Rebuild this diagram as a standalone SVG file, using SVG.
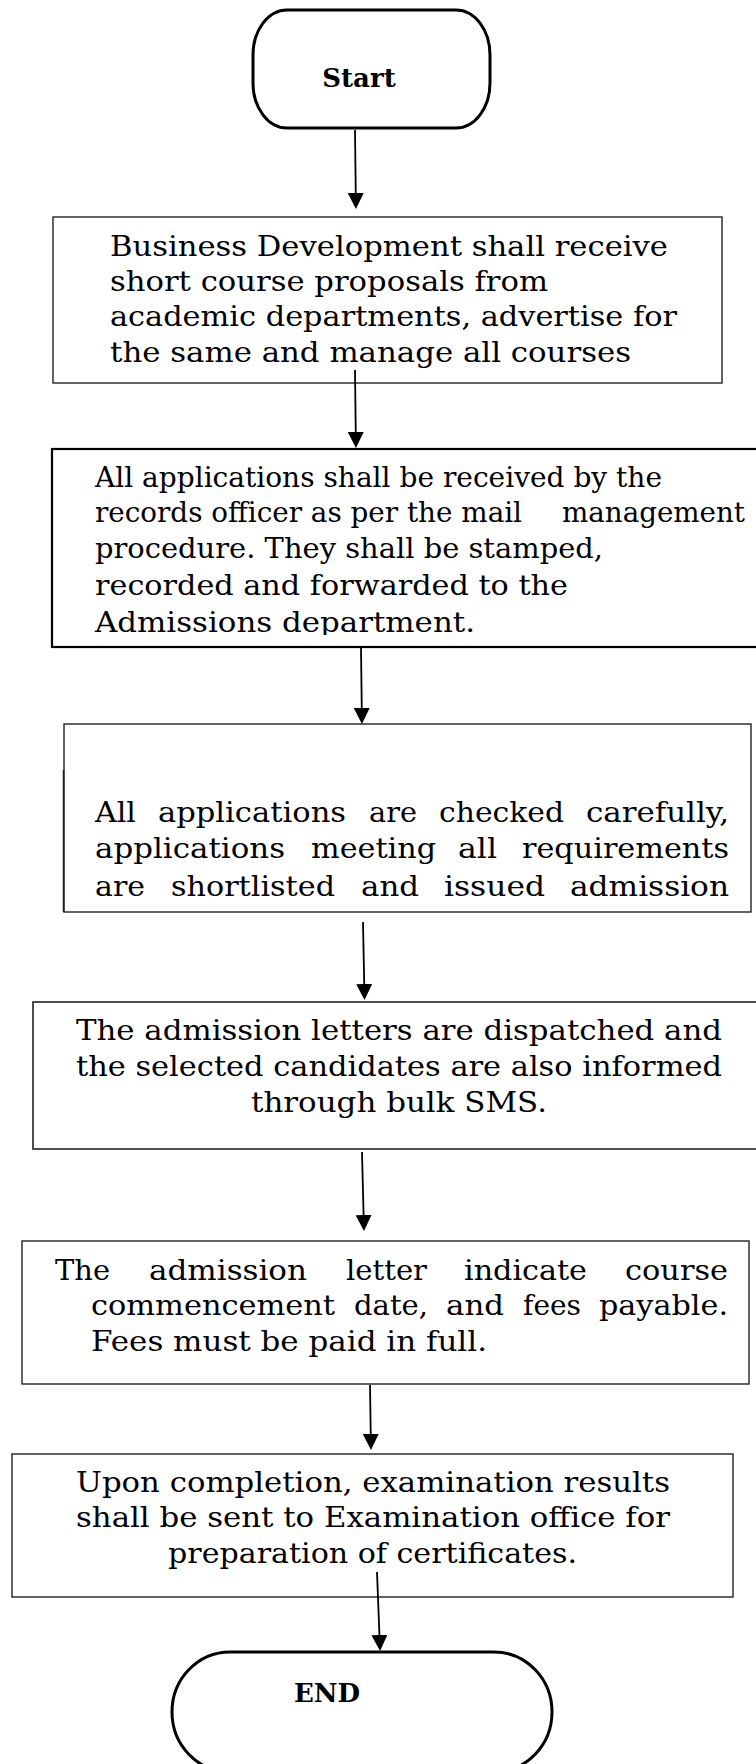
<svg xmlns="http://www.w3.org/2000/svg" width="756" height="1764" viewBox="0 0 756 1764">
<style>
.box{fill:#fff;stroke:#222;stroke-width:1.4}
.term{fill:#fff;stroke:#000;stroke-width:3}
.t{font-family:"DejaVu Serif","Liberation Serif",serif;font-size:28px;fill:#000}
.b{font-family:"DejaVu Serif","Liberation Serif",serif;font-size:26px;font-weight:bold;fill:#000}
.c{fill:none;stroke:#000;stroke-width:1.8}
</style>
<defs>
<marker id="ah" viewBox="0 0 16 16" refX="4" refY="8" markerWidth="16" markerHeight="16" markerUnits="userSpaceOnUse" orient="auto">
<path d="M0,0 L16,8 L0,16 z" fill="#000"/>
</marker>
<clipPath id="clip2"><rect x="52" y="449" width="720" height="186"/></clipPath>
</defs>
<rect width="756" height="1764" fill="#fff"/>

<g id="start">
<rect class="term" x="253" y="10" width="237" height="118" rx="34" ry="45"/>
<text class="b" x="359" y="87" text-anchor="middle">Start</text>
</g>

<g id="n1">
<rect class="box" x="53" y="217" width="669" height="166"/>
<text class="t" x="110" y="256" textLength="558" lengthAdjust="spacingAndGlyphs">Business Development shall receive</text>
<text class="t" x="110" y="291" textLength="438" lengthAdjust="spacingAndGlyphs">short course proposals from</text>
<text class="t" x="110" y="326" textLength="567" lengthAdjust="spacingAndGlyphs">academic departments, advertise for</text>
<text class="t" x="110" y="362" textLength="521" lengthAdjust="spacingAndGlyphs">the same and manage all courses</text>
</g>

<g id="n2">
<rect x="52" y="449" width="720" height="198" fill="#fff" stroke="#000" stroke-width="2.2"/>
<g clip-path="url(#clip2)">
<text class="t" x="95" y="487" textLength="567" lengthAdjust="spacingAndGlyphs">All applications shall be received by the</text>
<text class="t" x="95" y="522" textLength="427" lengthAdjust="spacingAndGlyphs">records officer as per the mail</text>
<text class="t" x="562" y="522" textLength="183" lengthAdjust="spacingAndGlyphs">management</text>
<text class="t" x="95" y="558" textLength="508" lengthAdjust="spacingAndGlyphs">procedure. They shall be stamped,</text>
<text class="t" x="95" y="595" textLength="473" lengthAdjust="spacingAndGlyphs">recorded and forwarded to the</text>
<text class="t" x="95" y="632" textLength="380" lengthAdjust="spacingAndGlyphs">Admissions department.</text>
</g>
</g>

<g id="n3">
<rect class="box" x="64" y="724" width="687" height="188"/>
<line x1="63.5" y1="770" x2="63.5" y2="912" stroke="#222" stroke-width="1.6"/>
<text class="t" x="95" y="822" textLength="41" lengthAdjust="spacingAndGlyphs">All</text>
<text class="t" x="158" y="822" textLength="188" lengthAdjust="spacingAndGlyphs">applications</text>
<text class="t" x="369" y="822" textLength="48" lengthAdjust="spacingAndGlyphs">are</text>
<text class="t" x="439" y="822" textLength="125" lengthAdjust="spacingAndGlyphs">checked</text>
<text class="t" x="586" y="822" textLength="143" lengthAdjust="spacingAndGlyphs">carefully,</text>
<text class="t" x="95" y="858" textLength="190" lengthAdjust="spacingAndGlyphs">applications</text>
<text class="t" x="311" y="858" textLength="125" lengthAdjust="spacingAndGlyphs">meeting</text>
<text class="t" x="458" y="858" textLength="39" lengthAdjust="spacingAndGlyphs">all</text>
<text class="t" x="522" y="858" textLength="207" lengthAdjust="spacingAndGlyphs">requirements</text>
<text class="t" x="95" y="896" textLength="50" lengthAdjust="spacingAndGlyphs">are</text>
<text class="t" x="171" y="896" textLength="164" lengthAdjust="spacingAndGlyphs">shortlisted</text>
<text class="t" x="361" y="896" textLength="58" lengthAdjust="spacingAndGlyphs">and</text>
<text class="t" x="444" y="896" textLength="101" lengthAdjust="spacingAndGlyphs">issued</text>
<text class="t" x="570" y="896" textLength="159" lengthAdjust="spacingAndGlyphs">admission</text>
</g>

<g id="n4">
<rect x="33" y="1002" width="740" height="147" fill="#fff" stroke="#222" stroke-width="1.6"/>
<text class="t" x="76" y="1040" textLength="646" lengthAdjust="spacingAndGlyphs">The admission letters are dispatched and</text>
<text class="t" x="76" y="1076" textLength="646" lengthAdjust="spacingAndGlyphs">the selected candidates are also informed</text>
<text class="t" x="251" y="1112" textLength="296" lengthAdjust="spacingAndGlyphs">through bulk SMS.</text>
</g>

<g id="n5">
<rect class="box" x="22" y="1241" width="727" height="143"/>
<text class="t" x="55" y="1280" textLength="55" lengthAdjust="spacingAndGlyphs">The</text>
<text class="t" x="149" y="1280" textLength="158" lengthAdjust="spacingAndGlyphs">admission</text>
<text class="t" x="346" y="1280" textLength="81" lengthAdjust="spacingAndGlyphs">letter</text>
<text class="t" x="464" y="1280" textLength="123" lengthAdjust="spacingAndGlyphs">indicate</text>
<text class="t" x="625" y="1280" textLength="103" lengthAdjust="spacingAndGlyphs">course</text>
<text class="t" x="91" y="1315" textLength="244" lengthAdjust="spacingAndGlyphs">commencement</text>
<text class="t" x="354" y="1315" textLength="74" lengthAdjust="spacingAndGlyphs">date,</text>
<text class="t" x="446" y="1315" textLength="58" lengthAdjust="spacingAndGlyphs">and</text>
<text class="t" x="523" y="1315" textLength="58" lengthAdjust="spacingAndGlyphs">fees</text>
<text class="t" x="599" y="1315" textLength="129" lengthAdjust="spacingAndGlyphs">payable.</text>
<text class="t" x="91" y="1351" textLength="396" lengthAdjust="spacingAndGlyphs">Fees must be paid in full.</text>
</g>

<g id="n6">
<rect class="box" x="12" y="1454" width="721" height="143"/>
<text class="t" x="76" y="1492" textLength="594" lengthAdjust="spacingAndGlyphs">Upon completion, examination results</text>
<text class="t" x="76" y="1527" textLength="594" lengthAdjust="spacingAndGlyphs">shall be sent to Examination office for</text>
<text class="t" x="168" y="1563" textLength="409" lengthAdjust="spacingAndGlyphs">preparation of certificates.</text>
</g>

<g id="end">
<rect class="term" x="172" y="1652" width="380" height="120" rx="58" ry="60"/>
<text class="b" x="327" y="1702" text-anchor="middle">END</text>
</g>

<g id="connectors">
<line class="c" x1="355" y1="130" x2="355.8" y2="197" marker-end="url(#ah)"/>
<line class="c" x1="355" y1="370" x2="355.8" y2="436" marker-end="url(#ah)"/>
<line class="c" x1="361" y1="647" x2="361.8" y2="712" marker-end="url(#ah)"/>
<line class="c" x1="363" y1="922" x2="364.3" y2="988" marker-end="url(#ah)"/>
<line class="c" x1="362" y1="1152" x2="363.7" y2="1219" marker-end="url(#ah)"/>
<line class="c" x1="370" y1="1385" x2="370.8" y2="1438" marker-end="url(#ah)"/>
<line class="c" x1="377" y1="1572" x2="379.6" y2="1639" marker-end="url(#ah)"/>
</g>
</svg>
